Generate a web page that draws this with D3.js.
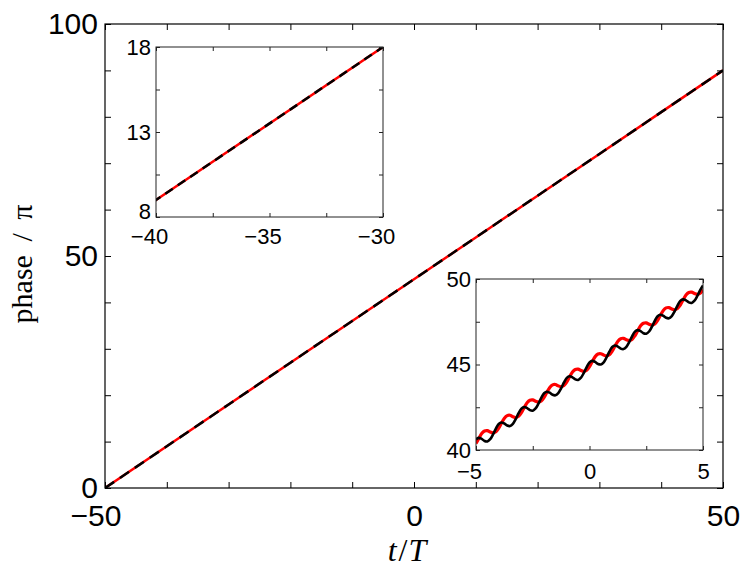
<!DOCTYPE html>
<html><head><meta charset="utf-8">
<script src="https://cdn.jsdelivr.net/npm/d3@7"></script>
<style>
html,body{margin:0;padding:0;background:#fff;}
svg{display:block;}
</style></head><body>
<svg id="c" width="747" height="570"></svg>
<script>
// ---------- data ----------
const mainT      = [-50,-40,-30,-20,-10,0,10,20,30,40,50];
const mainRed    = [0,9,18,27,36,45,54,63,72,81,90];
const mainBlack  = [0,9,18,27,36,45,54,63,72,81,90];
const mainXTicks = [-50,-40,-30,-20,-10,0,10,20,30,40,50];
const mainXLabels= ["−50","","","","","0","","","","","50"];
const mainYTicks = [0,10,20,30,40,50,60,70,80,90,100];
const mainYLabels= ["0","","","","","50","","","","","100"];

const in1XTicks  = [-40,-37.5,-35,-32.5,-30];
const in1XLabels = ["−40","","−35","","−30"];
const in1YTicks  = [8,10.5,13,15.5,18];
const in1YLabels = ["8","","13","","18"];

const in2XTicks  = [-5,-2.5,0,2.5,5];
const in2XLabels = ["−5","","0","","5"];
const in2YTicks  = [40,42.5,45,47.5,50];
const in2YLabels = ["40","","45","","50"];

const in2T = [-5,-4.875,-4.75,-4.625,-4.5,-4.375,-4.25,-4.125,
  -4,-3.875,-3.75,-3.625,-3.5,-3.375,-3.25,-3.125,
  -3,-2.875,-2.75,-2.625,-2.5,-2.375,-2.25,-2.125,
  -2,-1.875,-1.75,-1.625,-1.5,-1.375,-1.25,-1.125,
  -1,-0.875,-0.75,-0.625,-0.5,-0.375,-0.25,-0.125,
  0,0.125,0.25,0.375,0.5,0.625,0.75,0.875,
  1,1.125,1.25,1.375,1.5,1.625,1.75,1.875,
  2,2.125,2.25,2.375,2.5,2.625,2.75,2.875,
  3,3.125,3.25,3.375,3.5,3.625,3.75,3.875,
  4,4.125,4.25,4.375,4.5,4.625,4.75,4.875,5];
const in2Black = [40.62,40.71,40.65,40.53,40.50,40.63,40.91,41.25,
  41.52,41.61,41.55,41.43,41.40,41.53,41.81,42.15,
  42.42,42.51,42.45,42.33,42.30,42.43,42.71,43.05,
  43.32,43.41,43.35,43.23,43.20,43.33,43.61,43.95,
  44.22,44.31,44.25,44.13,44.10,44.23,44.51,44.85,
  45.12,45.21,45.15,45.03,45.00,45.13,45.41,45.75,
  46.02,46.11,46.05,45.93,45.90,46.03,46.31,46.65,
  46.92,47.01,46.95,46.83,46.80,46.93,47.21,47.55,
  47.82,47.91,47.85,47.73,47.70,47.83,48.11,48.45,
  48.72,48.81,48.75,48.63,48.60,48.73,49.01,49.35,49.62];
const in2Red = [40.38,40.68,40.96,41.11,41.13,41.05,41.00,41.07,
  41.28,41.58,41.86,42.01,42.03,41.95,41.90,41.97,
  42.18,42.48,42.76,42.91,42.93,42.85,42.80,42.87,
  43.08,43.38,43.66,43.81,43.83,43.75,43.70,43.77,
  43.98,44.28,44.56,44.71,44.73,44.65,44.60,44.67,
  44.88,45.18,45.46,45.61,45.63,45.55,45.50,45.57,
  45.78,46.08,46.36,46.51,46.53,46.45,46.40,46.47,
  46.68,46.98,47.26,47.41,47.43,47.35,47.30,47.37,
  47.58,47.88,48.16,48.31,48.33,48.25,48.20,48.27,
  48.48,48.78,49.06,49.21,49.23,49.15,49.10,49.17,49.38];

// ---------- drawing ----------
const svg = d3.select("#c");
const defs = svg.append("defs");
const SANS = "'Liberation Sans', Arial, Helvetica, sans-serif";

function panel(o){
  const g = svg.append("g");
  const x = d3.scaleLinear(o.xDom, [o.x0, o.x1]);
  const y = d3.scaleLinear(o.yDom, [o.y1, o.y0]);
  g.append("rect").attr("x",o.x0).attr("y",o.y0)
    .attr("width",o.x1-o.x0).attr("height",o.y1-o.y0).attr("fill","#fff");
  defs.append("clipPath").attr("id","clip-"+o.name).append("rect")
    .attr("x",o.x0).attr("y",o.y0).attr("width",o.x1-o.x0).attr("height",o.y1-o.y0);
  const lg = g.append("g").attr("clip-path",`url(#clip-${o.name})`);
  const line = d3.line().x(d=>x(d[0])).y(d=>y(d[1])).curve(o.curve || d3.curveLinear);
  o.series.forEach(s=>{
    lg.append("path").datum(d3.zip(s.t, s.v)).attr("d", line)
      .attr("fill","none").attr("stroke",s.color).attr("stroke-width",s.w)
      .attr("stroke-dasharray",s.dash||null)
      .attr("stroke-linejoin","round").attr("stroke-linecap","butt");
  });
  const fx = d => o.xLabels[o.xTicks.indexOf(d)];
  const fy = d => o.yLabels[o.yTicks.indexOf(d)];
  const style = (a)=>{
    a.select(".domain").remove();
    a.attr("font-family",SANS).attr("font-size",o.fs).attr("color",o.col);
    a.selectAll("line").attr("stroke-width",o.tw);
  };
  g.append("g").attr("transform",`translate(0,${o.y1})`)
    .call(d3.axisBottom(x).tickValues(o.xTicks).tickFormat(fx)
      .tickSize(-o.tl).tickSizeOuter(0).tickPadding(o.padX))
    .call(style)
    .call(a=>a.selectAll("text").attr("fill","#000")
      .attr("dx", d => d<0 ? "-0.32em" : null));
  g.append("g").attr("transform",`translate(0,${o.y0})`)
    .call(d3.axisTop(x).tickValues(o.xTicks).tickFormat("")
      .tickSize(-o.tl).tickSizeOuter(0)).call(style);
  g.append("g").attr("transform",`translate(${o.x0},0)`)
    .call(d3.axisLeft(y).tickValues(o.yTicks).tickFormat(fy)
      .tickSize(-o.tl).tickSizeOuter(0).tickPadding(o.padY))
    .call(style)
    .call(a=>a.selectAll("text").attr("fill","#000")
      .attr("transform", d => d===o.yTicks[0] && o.lowShift ? `translate(0,${-o.lowShift})` : null));
  g.append("g").attr("transform",`translate(${o.x1},0)`)
    .call(d3.axisRight(y).tickValues(o.yTicks).tickFormat("")
      .tickSize(-o.tl).tickSizeOuter(0)).call(style);
  g.append("rect").attr("x",o.x0).attr("y",o.y0)
    .attr("width",o.x1-o.x0).attr("height",o.y1-o.y0)
    .attr("fill","none").attr("stroke",o.col).attr("stroke-width",o.fw);
  return g;
}

// main axes
panel({name:"main", x0:105, x1:723, y0:24, y1:488,
  xDom:[-50,50], yDom:[0,100],
  xTicks:mainXTicks, xLabels:mainXLabels, yTicks:mainYTicks, yLabels:mainYLabels,
  fs:30, tl:6, tw:1, fw:1.2, col:"#000", padX:17, padY:7,
  series:[
    {t:mainT, v:mainRed, color:"#ff0000", w:2.5},
    {t:mainT, v:mainBlack, color:"#000", w:2.5, dash:"11,7"}
  ]});

// inset 1
panel({name:"in1", x0:156, x1:383, y0:47, y1:217,
  xDom:[-40,-30], yDom:[8,18],
  xTicks:in1XTicks, xLabels:in1XLabels, yTicks:in1YTicks, yLabels:in1YLabels,
  fs:22, tl:4, tw:1, fw:1, col:"#222", padX:11, padY:5, lowShift:6,
  series:[
    {t:mainT, v:mainRed, color:"#ff0000", w:2.5},
    {t:mainT, v:mainBlack, color:"#000", w:2.5, dash:"9,6"}
  ]});

// inset 2
panel({name:"in2", x0:476, x1:703, y0:279, y1:450,
  xDom:[-5,5], yDom:[40,50],
  xTicks:in2XTicks, xLabels:in2XLabels, yTicks:in2YTicks, yLabels:in2YLabels,
  fs:22, tl:4, tw:1, fw:1, col:"#222", padX:13, padY:5,
  curve:d3.curveCatmullRom,
  series:[
    {t:in2T, v:in2Red, color:"#ff0000", w:3.2},
    {t:in2T, v:in2Black, color:"#000", w:2.6}
  ]});

// axis titles
const SERIF = "'Liberation Serif', 'Times New Roman', serif";
svg.append("text")
  .attr("transform","translate(32,264) rotate(-90)")
  .attr("text-anchor","middle")
  .style("font-family",SERIF).style("font-size","30px")
  .style("white-space","pre").style("word-spacing","6px")
  .text("phase / π");

const xt = svg.append("text").attr("x",407).attr("y",561)
  .attr("text-anchor","middle")
  .style("font-family",SERIF).style("font-size","32px");
xt.append("tspan").style("font-style","italic").text("t");
xt.append("tspan").attr("dx","2").text("/");
xt.append("tspan").attr("dx","1").style("font-style","italic").text("T");
</script>
</body></html>
